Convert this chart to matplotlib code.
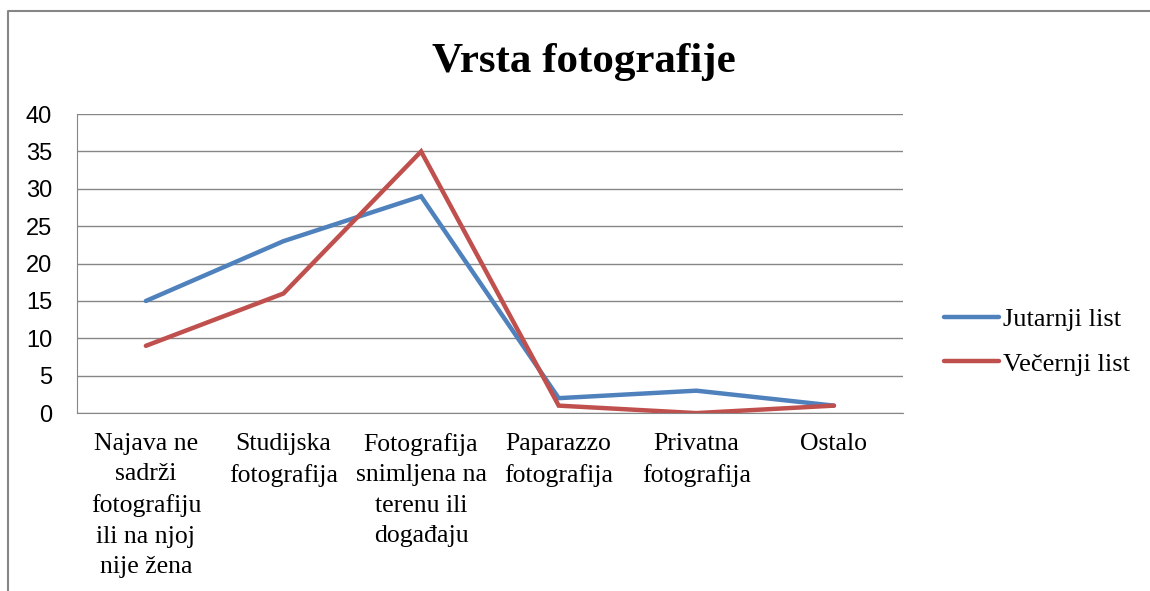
import matplotlib.pyplot as plt
from matplotlib.lines import Line2D

categories = ["Najava ne\nsadrži\nfotografiju\nili na njoj\nnije žena",
              "Studijska\nfotografija",
              "Fotografija\nsnimljena na\nterenu ili\ndogađaju",
              "Paparazzo\nfotografija",
              "Privatna\nfotografija",
              "Ostalo"]
jutarnji = [15, 23, 29, 2, 3, 1]
vecernji = [9, 16, 35, 1, 0, 1]

serif = "Liberation Serif"

fig = plt.figure(figsize=(11.5, 5.91), dpi=100)
ax = fig.add_axes([0.067, 0.301, 0.718, 0.506])

x = range(len(categories))
ax.plot(x, jutarnji, color="#4F81BD", lw=3.2, solid_capstyle="round", solid_joinstyle="miter", label="Jutarnji list")
ax.plot(x, vecernji, color="#C0504D", lw=3.2, solid_capstyle="round", solid_joinstyle="miter", label="Večernji list")

ax.set_xlim(-0.5, len(categories) - 0.5)
ax.set_ylim(0, 40)
ax.set_yticks(range(0, 41, 5))
ax.yaxis.grid(True, color="#868686", lw=1)
ax.set_axisbelow(True)
for s in ["top", "right"]:
    ax.spines[s].set_visible(False)
ax.spines["left"].set_color("#868686")
ax.spines["bottom"].set_color("#868686")
ax.tick_params(axis="y", length=0, pad=18, labelsize=17)
ax.tick_params(axis="x", length=0, pad=14)
ax.set_xticks(list(x))
ax.set_xticklabels(categories, fontsize=18.5, family=serif, linespacing=1.5, va="top")
for lab in ax.get_yticklabels():
    lab.set_family("Liberation Sans")

fig.text(0.508, 0.895, "Vrsta fotografije", ha="center", va="center",
         fontsize=31, fontweight="bold", family=serif)

leg = fig.legend(loc="center left", bbox_to_anchor=(0.80, 0.422), frameon=False,
                 prop={"family": serif, "size": 19}, handlelength=2.1,
                 handletextpad=0.15, labelspacing=0.8)

# outer chart border (left and top)
fig.add_artist(Line2D([0.007, 0.007, 1.0], [0.0, 0.981, 0.981], color="#868686", lw=1.5,
                      transform=fig.transFigure))

fig.savefig("out.png", dpi=100)
